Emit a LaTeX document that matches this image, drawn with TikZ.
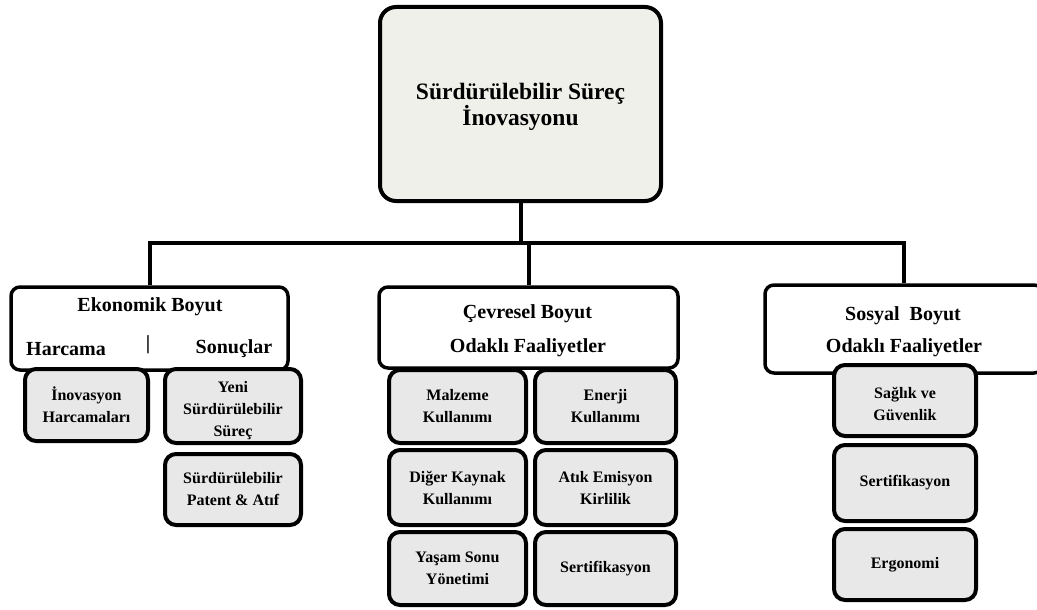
\documentclass[tikz,border=0pt]{standalone}
\usepackage{fontspec}
\setmainfont{Liberation Serif}
\definecolor{topfill}{RGB}{240,240,234}
\definecolor{subfill}{RGB}{232,232,232}
\newcommand{\topfont}{\fontsize{23.5}{24}\selectfont\bfseries}
\newcommand{\hdrfont}{\fontsize{20}{24}\selectfont\bfseries}
\newcommand{\subfnt}{\fontsize{16}{22}\selectfont\bfseries}
\tikzset{
  conn/.style={line width=4pt},
  topbox/.style={draw, line width=4pt, rounded corners=16pt, fill=topfill, inner sep=0pt, align=center, font=\topfont},
  hdrbox/.style={draw, line width=3.5pt, rounded corners=9pt, fill=white, inner sep=0pt},
  hdrtext/.style={inner sep=0pt, font=\hdrfont},
  subbox/.style={draw, line width=4pt, rounded corners=11pt, fill=subfill, inner sep=0pt, align=center, font=\subfnt},
  subtext/.style={inner sep=0pt, align=center, font=\subfnt},
}
\begin{document}
\begin{tikzpicture}[x=1pt,y=-1pt]
\useasboundingbox (0,0) rectangle (1037,610);
% top
\node[topbox, minimum width=281pt, minimum height=194pt] (top) at (520.5,104) {};
\node[inner sep=0pt, align=center, font=\topfont] (topt) at (520.5,107) {Sürdürülebilir Süreç\\İnovasyonu};
% headers
\node[hdrbox, minimum width=277pt, minimum height=83pt] (eko) at (149.5,328.5) {};
\node[hdrbox, minimum width=299pt, minimum height=81pt] (cev) at (528.5,327.5) {};
\node[hdrbox, minimum width=278pt, minimum height=88pt] (sos) at (904,329) {};
% connectors
\coordinate (bar) at (0,243);
\draw[conn] (top.south) -- (top.south |- bar);
\draw[conn] (eko.north) -- (eko.north |- bar) -- (sos.north |- bar) -- (sos.north);
\draw[conn] (cev.north) -- (cev.north |- bar);
% header texts
\node[hdrtext] (ekot) at (150,307) {Ekonomik Boyut};
\node[hdrtext] (harc) at (66,349) {Harcama};
\node[hdrtext] (sep) at (148,345) {|};
\node[hdrtext] (sonu) at (234,349) {Sonuçlar};
\node[hdrtext] (cevt1) at (527.5,314) {Çevresel Boyut};
\node[hdrtext] (cevt2) at (528,348) {Odaklı Faaliyetler};
\node[hdrtext] (sost1) at (903,316) {Sosyal~ Boyut};
\node[hdrtext] (sost2) at (904,348) {Odaklı Faaliyetler};
% economic sub boxes
\node[subbox, minimum width=123pt, minimum height=72pt] (inov) at (86.5,405) {İnovasyon\\Harcamaları};
\node[subbox, minimum width=136pt, minimum height=74pt] (yeni) at (233,406) {};
\node[subtext] (yenit) at (233,411) {Yeni\\Sürdürülebilir\\Süreç};
\node[subbox, minimum width=136pt, minimum height=71pt] (pat) at (233,489.5) {Sürdürülebilir\\Patent \& Atıf};
% environmental sub boxes
\node[subbox, minimum width=137pt, minimum height=73pt] (malz) at (457.5,406.5) {Malzeme\\Kullanımı};
\node[subbox, minimum width=141pt, minimum height=73pt] (ener) at (605.5,406.5) {Enerji\\Kullanımı};
\node[subbox, minimum width=137pt, minimum height=75pt] (dig) at (457.5,487.5) {Diğer Kaynak\\Kullanımı};
\node[subbox, minimum width=141pt, minimum height=75pt] (atik) at (605.5,487.5) {Atık Emisyon\\Kirlilik};
\node[subbox, minimum width=137pt, minimum height=73pt] (yas) at (457.5,568.5) {Yaşam Sonu\\Yönetimi};
\node[subbox, minimum width=141pt, minimum height=73pt] (sert) at (605.5,568.5) {Sertifikasyon};
% social sub boxes
\node[subbox, minimum width=142pt, minimum height=71pt] (sag) at (905,400.5) {};
\node[subtext] (sagt) at (905,404) {Sağlık ve\\Güvenlik};
\node[subbox, minimum width=142pt, minimum height=76pt] (sert2) at (905,483) {Sertifikasyon};
\node[subbox, minimum width=142pt, minimum height=71pt] (ergo) at (905,564.5) {Ergonomi};
\end{tikzpicture}
\end{document}
